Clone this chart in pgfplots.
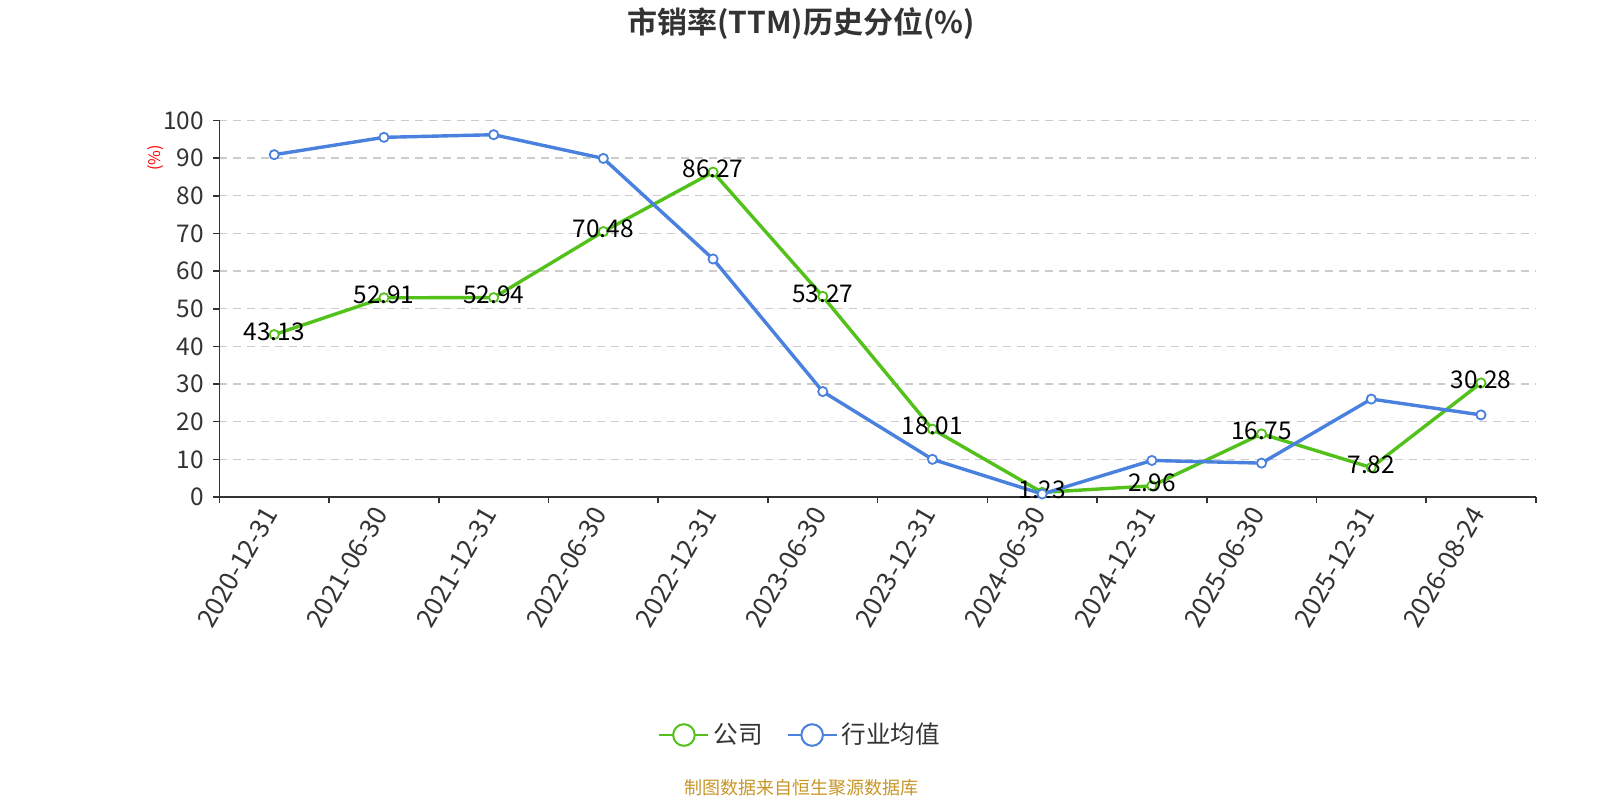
\documentclass[border=0pt]{standalone}
\usepackage{fontspec}
\setmainfont{Noto Sans CJK SC}[BoldFont={Noto Sans CJK SC Bold}]
\usepackage{pgfplots}
\pgfplotsset{compat=1.18}
\definecolor{cgreen}{RGB}{82,194,26}
\definecolor{cblue}{RGB}{74,128,222}
\definecolor{ctext}{RGB}{51,51,51}
\definecolor{cgrid}{RGB}{204,204,204}
\definecolor{csrc}{RGB}{200,150,40}
\begin{document}
\begin{tikzpicture}
\useasboundingbox (0pt,0pt) rectangle (800pt,400pt);
\node[font=\bfseries\fontsize{15}{17}\selectfont, text=ctext] at (400.5pt,388pt) {市销率(TTM)历史分位(\%)};
\node[font=\fontsize{9}{10}\selectfont, text=csrc] at (400.5pt,6pt) {制图数据来自恒生聚源数据库};
\node[rotate=90, text=red, font=\fontsize{8}{9}\selectfont] at (78pt,321pt) {(\%)};
\begin{axis}[
  at={(109.7pt,151.5pt)}, anchor=south west,
  scale only axis, width=658.2pt, height=188.3pt,
  xmin=-0.5, xmax=11.5, ymin=0, ymax=100,
  axis x line*=bottom, axis y line*=left,
  every outer x axis line/.append style={-},
  every outer y axis line/.append style={-},
  every inner x axis line/.append style={-},
  every inner y axis line/.append style={-},
  axis line style={ctext, line width=0.8pt},
  /pgf/number format/assume math mode=true,
  ytick={0,10,...,100},
  xtick={0,...,11},
  xticklabels={2020-12-31,2021-06-30,2021-12-31,2022-06-30,2022-12-31,2023-06-30,2023-12-31,2024-06-30,2024-12-31,2025-06-30,2025-12-31,2026-08-24},
  minor xtick={-0.5,0.5,...,11.5},
  tick align=outside,
  major tick length=3.2pt, minor tick length=3.2pt,
  major x tick style={draw=none},
  minor x tick style={ctext, line width=0.8pt},
  major y tick style={ctext, line width=0.8pt},
  ymajorgrids,
  major grid style={cgrid, line width=0.6pt, dash pattern=on 4pt off 3pt},
  yticklabel style={font=\fontsize{12.2}{13}\selectfont, text=ctext, xshift=-1pt},
  xticklabel style={font=\fontsize{13}{14}\selectfont, text=ctext, rotate=60, anchor=east},
  legend style={at={(0.442,-0.632)}, anchor=center, draw=none, fill=none,
    font=\fontsize{12.3}{13}\selectfont, text=ctext,
    /tikz/every even column/.append style={column sep=10pt}},
  legend columns=2,
  legend image code/.code={
    \draw[#1, line width=1pt, mark=none] (0pt,0pt) -- (24.5pt,0pt);
    \draw[#1, fill=white, line width=1pt, mark=none] (12.25pt,0pt) circle (5.4pt);
  },
]
\addplot[cgreen, line width=1.7pt, mark=*, mark size=2.3pt,
  mark options={fill=white, line width=0.9pt}, forget plot,
  nodes near coords,
  every node near coord/.append style={anchor=center, yshift=1.5pt, text=black, font=\fontsize{12.2}{13}\selectfont}]
  coordinates {(0,43.13) (1,52.91) (2,52.94) (3,70.48) (4,86.27) (5,53.27) (6,18.01) (7,1.23) (8,2.96) (9,16.75) (10,7.82) (11,30.28)};
\addlegendimage{cgreen}
\addlegendentry{公司}
\addplot[cblue, line width=1.7pt, mark=*, mark size=2.3pt,
  mark options={fill=white, line width=0.9pt}, forget plot]
  coordinates {(0,90.9) (1,95.5) (2,96.2) (3,89.9) (4,63.2) (5,28.0) (6,10.0) (7,0.8) (8,9.7) (9,9.0) (10,26.0) (11,21.8)};
\addlegendimage{cblue}
\addlegendentry{行业均值}
\end{axis}
\end{tikzpicture}
\end{document}
